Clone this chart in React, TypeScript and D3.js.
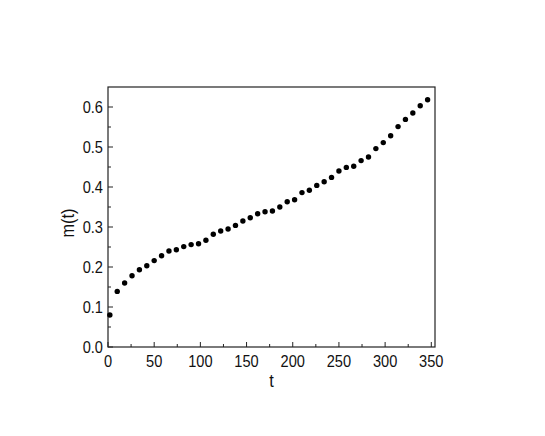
import React from 'react'
import { scaleLinear, range } from 'd3'

const tValues = [2, 10, 18, 26, 34, 42, 50, 58, 66, 74, 82, 90, 98, 106, 114, 122, 130, 138, 146, 154, 162, 170, 178, 186, 194, 202, 210, 218, 226, 234, 242, 250, 258, 266, 274, 282, 290, 298, 306, 314, 322, 330, 338, 346]
const mValues = [0.080, 0.139, 0.160, 0.178, 0.193, 0.203, 0.216, 0.228, 0.240, 0.243, 0.251, 0.256, 0.258, 0.267, 0.282, 0.290, 0.295, 0.304, 0.315, 0.323, 0.333, 0.338, 0.340, 0.350, 0.363, 0.368, 0.386, 0.392, 0.404, 0.413, 0.424, 0.440, 0.449, 0.452, 0.466, 0.475, 0.496, 0.511, 0.528, 0.551, 0.569, 0.585, 0.603, 0.618]
const xTicks = [0, 50, 100, 150, 200, 250, 300, 350]
const yTicks = [0.0, 0.1, 0.2, 0.3, 0.4, 0.5, 0.6]

const width = 545
const height = 436
const margin = { top: 87, right: 110, bottom: 89, left: 108 }

const font = '"Liberation Sans", Arial, sans-serif'
// the original text is a narrow Helvetica: squeeze it a bit
const squeeze = 0.86

const App = () => {
    const innerWidth = width - margin.left - margin.right
    const innerHeight = height - margin.top - margin.bottom

    const x = scaleLinear().domain([0, 354]).range([margin.left, margin.left + innerWidth])
    const y = scaleLinear().domain([0, 0.65]).range([margin.top + innerHeight, margin.top])

    const xMinor = range(25, 354, 50)
    const yMinor = range(0.05, 0.65, 0.1)
    const bottom = margin.top + innerHeight

    return (
        <svg width={width} height={height} style={{ position: 'absolute', left: 0, top: 0 }}>
            <rect x={0} y={0} width={width} height={height} fill="white" />
            <rect x={margin.left} y={margin.top} width={innerWidth} height={innerHeight}
                fill="none" stroke="#222" strokeWidth={1.2} />

            {xTicks.map(t => (
                <g key={'x' + t}>
                    <line x1={x(t)} x2={x(t)} y1={bottom} y2={bottom - 5} stroke="#222" />
                    <text transform={`translate(${x(t)}, ${bottom + 20}) scale(${squeeze}, 1)`}
                        textAnchor="middle" fontFamily={font} fontSize={17} fill="#111">{t}</text>
                </g>
            ))}
            {xMinor.map(t => (
                <line key={'xm' + t} x1={x(t)} x2={x(t)} y1={bottom} y2={bottom - 3} stroke="#222" />
            ))}

            {yTicks.map(v => (
                <g key={'y' + v}>
                    <line x1={margin.left} x2={margin.left + 5} y1={y(v)} y2={y(v)} stroke="#222" />
                    <text transform={`translate(${margin.left - 5}, ${y(v)}) scale(${squeeze}, 1)`}
                        dy="0.36em" textAnchor="end" fontFamily={font}
                        fontSize={17} fill="#111">{v.toFixed(1)}</text>
                </g>
            ))}
            {yMinor.map(v => (
                <line key={'ym' + v} x1={margin.left} x2={margin.left + 3} y1={y(v)} y2={y(v)} stroke="#222" />
            ))}

            {tValues.map((t, i) => (
                <circle key={i} cx={x(t)} cy={y(mValues[i])} r={2.7} fill="black" />
            ))}

            <text transform={`translate(${x(177)}, ${bottom + 40}) scale(${squeeze}, 1)`}
                textAnchor="middle" fontFamily={font} fontSize={19} fill="#111">t</text>
            <text transform={`translate(74, 223) rotate(-90) scale(${squeeze}, 1)`} textAnchor="middle"
                fontFamily={font} fontSize={19} fill="#111">m(t)</text>
        </svg>
    )
}

export default App
